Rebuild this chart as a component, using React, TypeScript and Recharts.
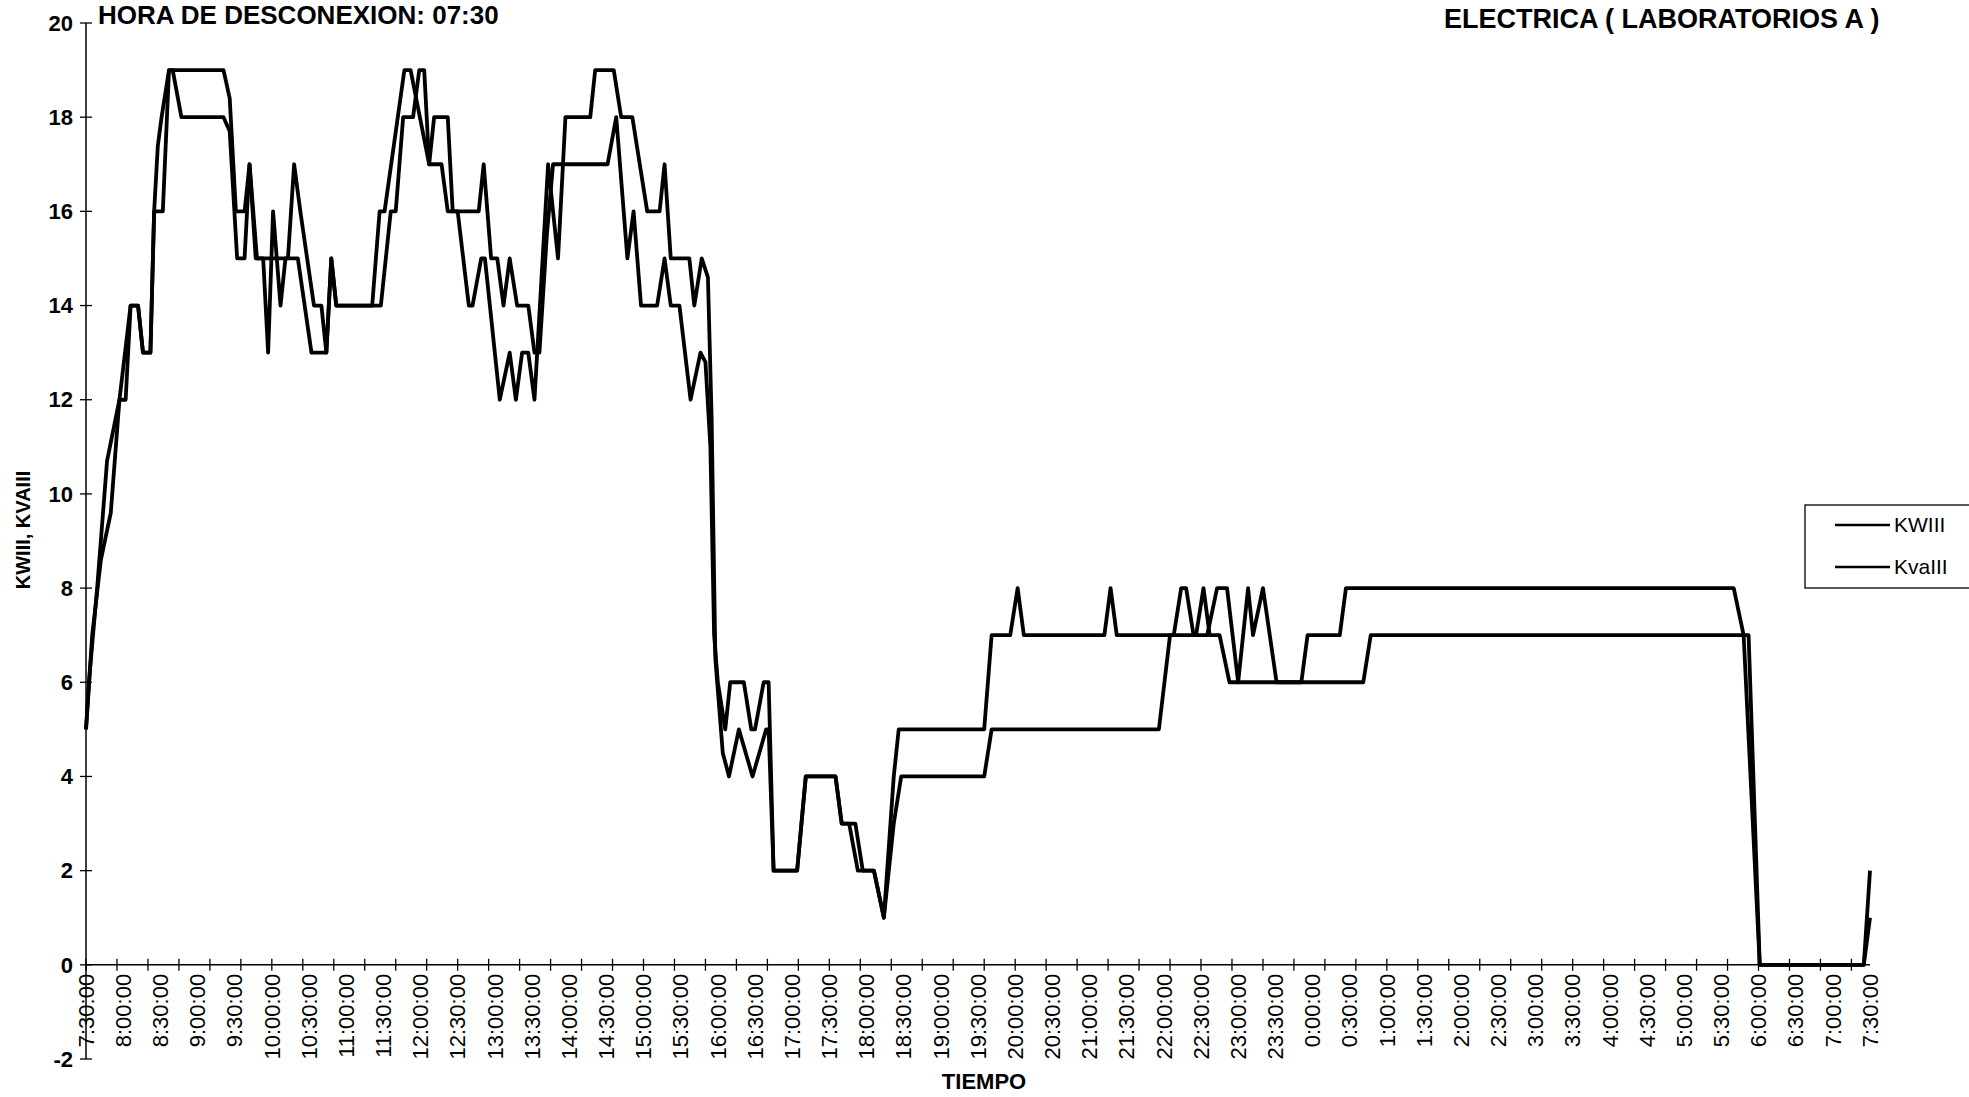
import { LineChart, Line, XAxis, YAxis, ReferenceLine } from 'recharts';

// Lecturas cada pocos minutos desde las 7:30 (minutos transcurridos, valor)
const kwPoints: [number, number][] = [
  [0, 5], [5, 7], [12, 8.6], [20, 9.6], [27, 12], [32, 12], [36, 14], [42, 14], [46, 13], [52, 13],
  [55, 16], [62, 16], [67, 19], [70, 19], [77, 18], [111, 18], [116, 17.7], [122, 15], [128, 15],
  [132, 17], [138, 15], [163, 15], [168, 17], [173, 16], [184, 14], [190, 14], [194, 13], [198, 15],
  [202, 14], [238, 14], [246, 16], [250, 16], [256, 18], [264, 18], [269, 19], [273, 19], [277, 17],
  [287, 17], [292, 16], [300, 16], [309, 14], [312, 14], [319, 15], [322, 15], [334, 12], [342, 13],
  [347, 12], [352, 13], [357, 13], [362, 12], [373, 17], [381, 15], [387, 18], [407, 18], [411, 19],
  [426, 19], [432, 18], [441, 18], [453, 16], [463, 16], [467, 17], [472, 15], [487, 15], [491, 14],
  [497, 15], [502, 14.6], [505, 11.6], [508, 6.5], [514, 4.5], [519, 4], [527, 5], [538, 4], [549, 5],
  [551, 5], [555, 2], [574, 2], [581, 4], [605, 4], [610, 3], [616, 3], [623, 2], [636, 2], [644, 1],
  [652, 3], [658, 4], [725, 4], [731, 5], [866, 5], [875, 7], [896, 7], [902, 8], [907, 7], [915, 7],
  [923, 6], [1031, 6], [1037, 7], [1342, 7], [1351, 0], [1435, 0], [1440, 1],
];

const kvaPoints: [number, number][] = [
  [0, 5], [3, 6.2], [9, 8], [17, 10.7], [27, 12], [36, 14], [42, 14], [46, 13], [52, 13], [55, 16],
  [58, 17.4], [61, 18], [67, 19], [111, 19], [116, 18.4], [121, 16], [128, 16], [132, 17], [137, 15],
  [143, 15], [147, 13], [151, 16], [157, 14], [161, 15], [171, 15], [182, 13], [194, 13], [198, 15],
  [202, 14], [231, 14], [237, 16], [241, 16], [257, 19], [262, 19], [277, 17], [281, 18], [292, 18],
  [296, 16], [317, 16], [321, 17], [327, 15], [332, 15], [337, 14], [342, 15], [348, 14], [357, 14],
  [362, 13], [366, 13], [372, 15.5], [377, 17], [421, 17], [428, 18], [437, 15], [442, 16], [448, 14],
  [461, 14], [467, 15], [472, 14], [479, 14], [488, 12], [496, 13], [500, 12.8], [504, 11], [507, 7],
  [510, 6], [516, 5], [520, 6], [531, 6], [537, 5], [540, 5], [547, 6], [551, 6], [555, 2], [574, 2],
  [581, 4], [605, 4], [610, 3], [621, 3], [627, 2], [636, 2], [644, 1], [652, 4], [656, 5], [725, 5],
  [731, 7], [746, 7], [752, 8], [757, 7], [822, 7], [827, 8], [832, 7], [878, 7], [884, 8], [888, 8],
  [894, 7], [905, 7], [913, 8], [921, 8], [930, 6], [938, 8], [942, 7], [950, 8], [961, 6], [981, 6],
  [986, 7], [1012, 7], [1017, 8], [1330, 8], [1338, 7], [1351, 0], [1435, 0], [1440, 2],
];

const seriesNames = ['KWIII', 'KvaIII'];

const timeLabels = [
  '7:30:00', '8:00:00', '8:30:00', '9:00:00', '9:30:00', '10:00:00', '10:30:00', '11:00:00',
  '11:30:00', '12:00:00', '12:30:00', '13:00:00', '13:30:00', '14:00:00', '14:30:00', '15:00:00',
  '15:30:00', '16:00:00', '16:30:00', '17:00:00', '17:30:00', '18:00:00', '18:30:00', '19:00:00',
  '19:30:00', '20:00:00', '20:30:00', '21:00:00', '21:30:00', '22:00:00', '22:30:00', '23:00:00',
  '23:30:00', '0:00:00', '0:30:00', '1:00:00', '1:30:00', '2:00:00', '2:30:00', '3:00:00',
  '3:30:00', '4:00:00', '4:30:00', '5:00:00', '5:30:00', '6:00:00', '6:30:00', '7:00:00', '7:30:00',
];

const valueTicks = [-2, 0, 2, 4, 6, 8, 10, 12, 14, 16, 18, 20];

const W = 1969;
const H = 1097;
const PLOT = { left: 86, right: 1870, top: 23, bottom: 1059 };
const Y_AXIS_W = 80;
const X_AXIS_H = 1;
const FONT = '"Liberation Sans", Arial, Helvetica, sans-serif';

// the category axis crosses at 0, not at the bottom of the value range
const Y_MIN = valueTicks[0];
const Y_MAX = valueTicks[valueTicks.length - 1];
const yZero = PLOT.top + (Y_MAX / (Y_MAX - Y_MIN)) * (PLOT.bottom - PLOT.top);

const LABEL_STEP = 30; // one label every half hour
const MARK_STEP = 25; // tick marks every 5 readings
const spanMinutes = (timeLabels.length - 1) * LABEL_STEP;

const xTicks = Array.from(
  new Set([
    ...timeLabels.map((_, i) => i * LABEL_STEP),
    ...Array.from({ length: Math.floor(spanMinutes / MARK_STEP) + 1 }, (_, i) => i * MARK_STEP),
  ]),
).sort((a, b) => a - b);

const toRows = (pts: [number, number][]) => pts.map(([m, v]) => ({ m, v }));
const kwData = toRows(kwPoints);
const kvaData = toRows(kvaPoints);

const TimeTick = ({ x, payload }: any) => {
  const v = payload.value as number;
  const ty = yZero + 9;
  return (
    <g>
      {v % MARK_STEP === 0 && (
        <line x1={x} x2={x} y1={yZero - 6} y2={yZero + 6} stroke="#000" strokeWidth={1.3} />
      )}
      {v % LABEL_STEP === 0 && (
        <text
          x={x}
          y={ty}
          dy="0.35em"
          transform={`rotate(-90 ${x} ${ty})`}
          textAnchor="end"
          fontFamily={FONT}
          fontSize={22}
          fill="#000"
        >
          {timeLabels[v / LABEL_STEP]}
        </text>
      )}
    </g>
  );
};

const ValueTick = ({ y, payload }: any) => (
  <g>
    <line x1={PLOT.left - 6} x2={PLOT.left + 6} y1={y} y2={y} stroke="#000" strokeWidth={1.3} />
    <text
      x={PLOT.left - 13}
      y={y}
      dy="0.35em"
      textAnchor="end"
      fontFamily={FONT}
      fontWeight="bold"
      fontSize={22}
      fill="#000"
    >
      {payload.value}
    </text>
  </g>
);

export default function App() {
  return (
    <div
      style={{
        position: 'fixed',
        left: 0,
        top: 0,
        width: W,
        height: H,
        overflow: 'hidden',
        background: '#fff',
      }}
    >
      <LineChart
        width={W}
        height={H}
        margin={{
          top: PLOT.top,
          right: W - PLOT.right,
          left: PLOT.left - Y_AXIS_W,
          bottom: H - PLOT.bottom - X_AXIS_H,
        }}
      >
        <XAxis
          dataKey="m"
          type="number"
          domain={[0, spanMinutes]}
          ticks={xTicks}
          interval={0}
          height={X_AXIS_H}
          axisLine={false}
          tickLine={false}
          tick={TimeTick}
          allowDuplicatedCategory={false}
        />
        <YAxis
          type="number"
          domain={[Y_MIN, Y_MAX]}
          ticks={valueTicks}
          interval={0}
          width={Y_AXIS_W}
          axisLine={{ stroke: '#000', strokeWidth: 1.5 }}
          tickLine={false}
          tick={ValueTick}
        />
        <ReferenceLine y={0} stroke="#000" strokeWidth={1.5} />
        <Line
          data={kwData}
          dataKey="v"
          name={seriesNames[0]}
          type="linear"
          stroke="#000"
          strokeWidth={3.8}
          strokeLinejoin="round"
          dot={false}
          isAnimationActive={false}
        />
        <Line
          data={kvaData}
          dataKey="v"
          name={seriesNames[1]}
          type="linear"
          stroke="#000"
          strokeWidth={3.8}
          strokeLinejoin="round"
          dot={false}
          isAnimationActive={false}
        />
      </LineChart>

      <svg
        width={W}
        height={H}
        style={{ position: 'absolute', left: 0, top: 0, pointerEvents: 'none' }}
        fontFamily={FONT}
      >
        <text x={98} y={24} fontSize={26} fontWeight="bold" fill="#000">
          HORA DE DESCONEXION: 07:30
        </text>
        <text x={1444} y={28} fontSize={27} fontWeight="bold" fill="#000">
          ELECTRICA ( LABORATORIOS A )
        </text>
        <text x={984} y={1089} fontSize={22} fontWeight="bold" textAnchor="middle" fill="#000">
          TIEMPO
        </text>
        <text
          transform="translate(30 530) rotate(-90)"
          fontSize={20}
          fontWeight="bold"
          textAnchor="middle"
          fill="#000"
        >
          KWIII, KVAIII
        </text>

        {/* leyenda */}
        <rect x={1805} y={505} width={220} height={83} fill="#fff" stroke="#000" strokeWidth={1.3} />
        {seriesNames.map((name, i) => {
          const ly = 525 + i * 42;
          return (
            <g key={name}>
              <line x1={1835} x2={1890} y1={ly} y2={ly} stroke="#000" strokeWidth={2.5} />
              <text x={1894} y={ly} dy="0.35em" fontSize={21} fill="#000">
                {name}
              </text>
            </g>
          );
        })}
      </svg>
    </div>
  );
}
